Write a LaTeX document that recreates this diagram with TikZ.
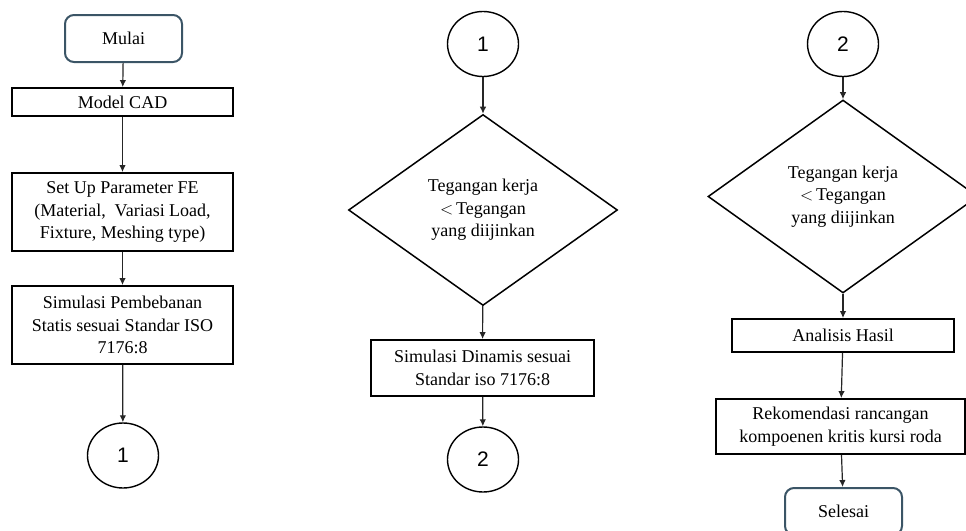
\documentclass[tikz,border=0pt]{standalone}
\usepackage{fontspec}
\setmainfont{Liberation Serif}
\newfontfamily\digitfont{Liberation Sans}
\usetikzlibrary{shapes.geometric, arrows.meta}
\definecolor{termcol}{HTML}{3B5566}

\begin{document}
\begin{tikzpicture}[x=1pt, y=-1pt,
    procbox/.style={draw, line width=1.8pt, rectangle, align=center, inner sep=2pt, font=\fontsize{18}{22.5}\selectfont},
    termbox/.style={draw=termcol, line width=2pt, rounded corners=9pt, minimum width=117, minimum height=47, font=\fontsize{18}{22}\selectfont},
    conn/.style={draw, line width=1.4pt, ellipse, minimum width=71, minimum height=65, inner sep=0pt, font=\digitfont\fontsize{21}{24}\selectfont},
    decide/.style={draw, line width=1.5pt, diamond, align=center, inner sep=0pt, font=\fontsize{18}{22.5}\selectfont},
    flow/.style={draw=black!85, line width=1.2pt, -{Latex[length=7pt, width=6.5pt]}}
]
    % Frame of the page
    \useasboundingbox (0,0) rectangle (966,530);
    \clip (0,0) rectangle (966,530);

    % --- Column 1 ---
    \node[termbox] (mulai) at (123.5, 38.5) {Mulai};
    \node[procbox, minimum width=221, minimum height=28] (cad) at (122.5, 102) {Model CAD};
    \node[procbox, minimum width=221, minimum height=78] (setup) at (122.5, 212) {Set Up Parameter FE\\(Material,\ \ Variasi Load,\\Fixture, Meshing type)};
    \node[procbox, minimum width=221, minimum height=78] (statis) at (122.5, 325) {Simulasi Pembebanan\\Statis sesuai Standar ISO\\7176:8};
    \node[conn] (satuA) at (123, 455.5) {1};

    \draw[flow] (mulai) -- (cad);
    \draw[flow] (cad) -- (setup);
    \draw[flow] (setup) -- (statis);
    \draw[flow] (statis) -- (satuA);

    % --- Column 2 ---
    \node[conn] (satuB) at (483, 44) {1};
    \node[decide, minimum width=269, minimum height=191] (cekA) at (483, 210) {Tegangan kerja\\${<}\,$Tegangan\\yang diijinkan};
    \node[procbox, minimum width=223, minimum height=56] (dinamis) at (482.5, 368) {Simulasi Dinamis sesuai\\Standar iso 7176:8};
    \node[conn] (duaA) at (483, 459.5) {2};

    \draw[flow] (satuB) -- (cekA);
    \draw[flow] (cekA) -- (dinamis);
    \draw[flow] (dinamis) -- (duaA);

    % --- Column 3 (diamond and end box run past the page edge) ---
    \node[conn] (duaB) at (843, 44) {2};
    \node[decide, minimum width=270, minimum height=193] (cekB) at (843, 196.5) {Tegangan kerja\\${<}\,$Tegangan\\yang diijinkan};
    \node[procbox, minimum width=222, minimum height=33] (hasil) at (843, 335.5) {Analisis Hasil};
    \node[procbox, minimum width=249, minimum height=55] (rekom) at (840.5, 426.5) {Rekomendasi rancangan\\kompoenen kritis kursi roda};
    \node[termbox] (selesai) at (843.5, 511.5) {Selesai};

    \draw[flow] (duaB) -- (cekB);
    \draw[flow] (cekB) -- (hasil);
    \draw[flow] (hasil) -- (rekom);
    \draw[flow] (rekom) -- (selesai);
\end{tikzpicture}
\end{document}
